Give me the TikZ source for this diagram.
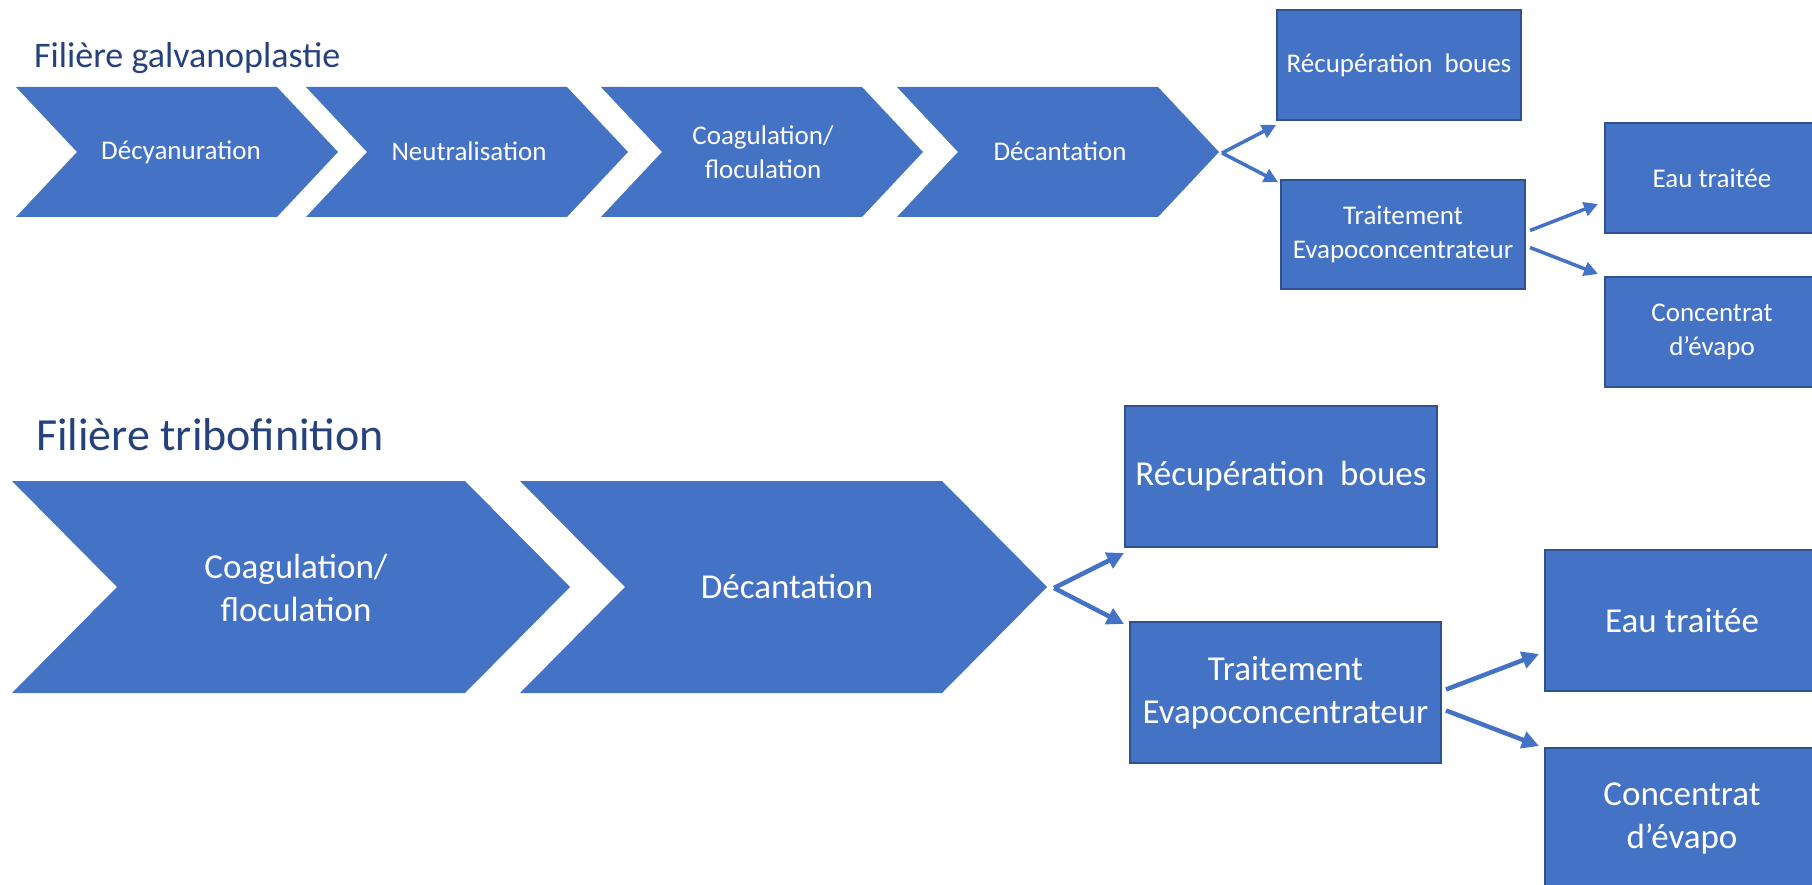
\documentclass[tikz,border=0pt]{standalone}
\usepackage{fontspec}
\setmainfont{Carlito}
\usetikzlibrary{arrows.meta,calc}
\definecolor{accent}{HTML}{4472C4}
\definecolor{boxline}{HTML}{2F528F}
\definecolor{titleblue}{RGB}{38,66,125}
\begin{document}
\begin{tikzpicture}[x=1pt,y=-1pt,
  chev/.style={fill=accent},
  lbl/.style={text=white, align=center, inner sep=0pt},
  smallfont/.style={font=\fontsize{27}{34}\selectfont},
  bigfont/.style={font=\fontsize{35}{43}\selectfont},
  box/.style={draw=boxline, line width=2pt, fill=accent, text=white, align=center, inner sep=0pt},
  titletext/.style={anchor=base west, text=titleblue, inner sep=0pt},
  arrsmall/.style={draw=accent, line width=3.5pt, -{Triangle[length=14pt,width=14pt]}},
  arrbig/.style={draw=accent, line width=4.5pt, -{Triangle[length=17pt,width=17pt]}}]
\useasboundingbox (0,0) rectangle (1812,885);
\clip (0,0) rectangle (1812,885);

% ---------- Filière galvanoplastie ----------
\node[titletext, font=\fontsize{36}{43}\selectfont] (title1) at (34,68) {Filière galvanoplastie};

\fill[chev] (16,87)--(277,87)--(338,152)--(277,217)--(16,217)--(77,152)--cycle;
\fill[chev] (306,87)--(567,87)--(628,152)--(567,217)--(306,217)--(367,152)--cycle;
\fill[chev] (601,87)--(862,87)--(923,152)--(862,217)--(601,217)--(662,152)--cycle;
\fill[chev] (897,87)--(1158,87)--(1219,152)--(1158,217)--(897,217)--(958,152)--cycle;

\node[lbl, smallfont] (decy) at (181,152) {Décyanuration};
\node[lbl, smallfont] (neut) at (469,151) {Neutralisation};
\node[lbl, smallfont] (coag1) at (763,152) {Coagulation/\\floculation};
\node[lbl, smallfont] (deca1) at (1060,151) {Décantation};
\coordinate (deca1tip) at (1222,153);

\node[box, smallfont, minimum width=244pt, minimum height=110pt] (recup1) at (1399,65) {Récupération\hspace{0.45em}boues};
\node[box, smallfont, minimum width=244pt, minimum height=109pt] (trait1) at (1403,234.5) {Traitement\\Evapoconcentrateur};
\node[box, smallfont, minimum width=214pt, minimum height=110pt] (eau1) at (1712,178) {Eau traitée};
\node[box, smallfont, minimum width=214pt, minimum height=110pt] (conc1) at (1712,332) {Concentrat\\d’évapo};

\draw[arrsmall] (deca1tip) -- ($(recup1.south west)+(0,4)$);
\draw[arrsmall] (deca1tip) -- ($(trait1.north west)+(-2,3)$);
\draw[arrsmall] ($(trait1.east)+(4,-4)$) -- ($(eau1.south west)+(-6,-30)$);
\draw[arrsmall] ($(trait1.east)+(4,13)$) -- ($(conc1.north west)+(-6,-2)$);

% ---------- Filière tribofinition ----------
\node[titletext, font=\fontsize{46}{55}\selectfont] (title2) at (36,450) {Filière tribofinition};

\fill[chev] (12,481)--(465,481)--(570,587)--(465,693)--(12,693)--(117,587)--cycle;
\fill[chev] (520,481)--(942,481)--(1047,587)--(942,693)--(520,693)--(625,587)--cycle;

\node[lbl, bigfont] (coag2) at (296,588) {Coagulation/\\floculation};
\node[lbl, bigfont] (deca2) at (787,587) {Décantation};
\coordinate (deca2tip) at (1054,588);

\node[box, bigfont, minimum width=312pt, minimum height=141pt] (recup2) at (1281,476.5) {Récupération\hspace{0.45em}boues};
\node[box, bigfont, minimum width=311pt, minimum height=141pt] (trait2) at (1285.5,692.5) {Traitement\\Evapoconcentrateur};
\node[box, bigfont, minimum width=274pt, minimum height=141pt] (eau2) at (1682,620.5) {Eau traitée};
\node[box, bigfont, minimum width=274pt, minimum height=141pt] (conc2) at (1682,818.5) {Concentrat\\d’évapo};

\draw[arrbig] (deca2tip) -- ($(recup2.south west)+(0,5)$);
\draw[arrbig] (deca2tip) -- ($(trait2.north west)+(-5,3)$);
\draw[arrbig] ($(trait2.east)+(4,-3)$) -- ($(eau2.south west)+(-5,-38)$);
\draw[arrbig] ($(trait2.east)+(4,18)$) -- ($(conc2.north west)+(-5,-1)$);
\end{tikzpicture}
\end{document}
